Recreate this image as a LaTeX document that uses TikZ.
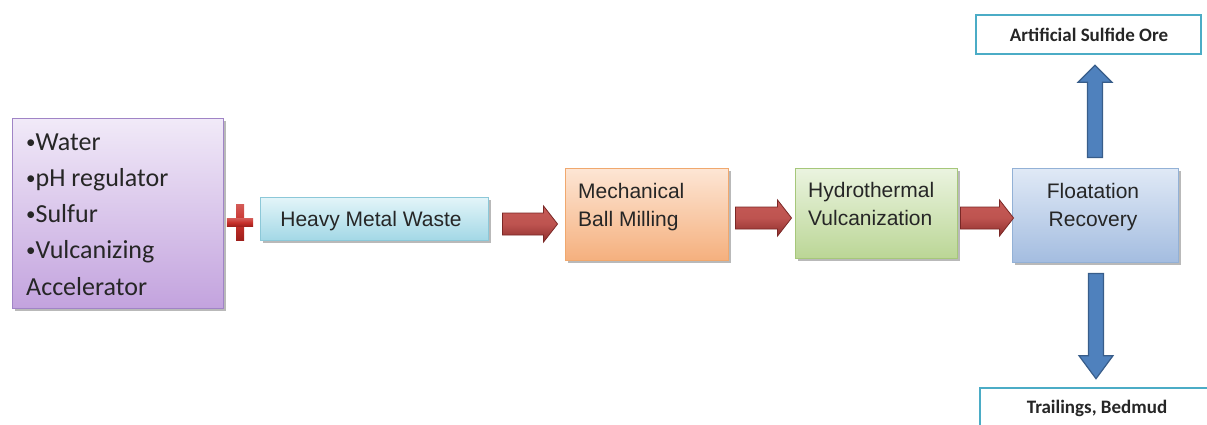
\documentclass[tikz,border=0pt]{standalone}
\usepackage{fontspec}
\setmainfont{Carlito}
\newfontfamily\arfont{Liberation Sans}
\newfontfamily\calfont{Carlito}
\usetikzlibrary{shadows,calc}
\newcommand\smallbul{\raisebox{1.5pt}{\fontsize{19}{19}\selectfont •}}
\definecolor{purTop}{HTML}{F1EAF8}
\definecolor{purMid}{HTML}{E2D3F0}
\definecolor{purBot}{HTML}{C3A3DE}
\definecolor{purLine}{HTML}{A084C6}
\definecolor{cyTop}{HTML}{E4F5F9}
\definecolor{cyMid}{HTML}{C8EAF2}
\definecolor{cyBot}{HTML}{A3D8E6}
\definecolor{cyLine}{HTML}{8CC8D8}
\definecolor{orTop}{HTML}{FDE6D5}
\definecolor{orMid}{HTML}{FBD0B0}
\definecolor{orBot}{HTML}{F5B07E}
\definecolor{orLine}{HTML}{F0A86E}
\definecolor{grTop}{HTML}{EBF4E0}
\definecolor{grMid}{HTML}{D6E8C0}
\definecolor{grBot}{HTML}{BBD696}
\definecolor{grLine}{HTML}{A6C77A}
\definecolor{blTop}{HTML}{E0E9F6}
\definecolor{blMid}{HTML}{C6D6EE}
\definecolor{blBot}{HTML}{A4BDE0}
\definecolor{blLine}{HTML}{93B1D6}
\definecolor{teal}{HTML}{4BACC6}
\definecolor{arRedTop}{HTML}{C65A56}
\definecolor{arRedBot}{HTML}{8E2E2C}
\definecolor{arRedLine}{HTML}{7A2826}
\definecolor{arBlue}{HTML}{4F81BD}
\definecolor{arBlueLine}{HTML}{385D8A}
\definecolor{plusRed}{HTML}{C8302B}
\definecolor{plusDark}{HTML}{9E1F1B}
\definecolor{txt}{HTML}{262626}
\begin{document}
\begin{tikzpicture}[x=1pt,y=-1pt,
  box/.style={draw, line width=0.9pt, inner sep=0pt,
    drop shadow={shadow xshift=3pt,shadow yshift=-3pt,fill=black!50,opacity=0.55}},
  outbox/.style={draw=teal, line width=2.6pt, fill=white, inner sep=0pt},
  proc/.style={font=\arfont\fontsize{21}{27}\selectfont, text=txt, inner sep=0pt},
  lefttxt/.style={font=\calfont\fontsize{26}{36}\selectfont, text=txt, inner sep=0pt, anchor=base west},
  outtxt/.style={font=\calfont\bfseries\fontsize{19}{23}\selectfont, text=txt, inner sep=0pt, anchor=base},
  fatH/.style={to path={let \p1=(\tikztostart), \p2=(\tikztotarget) in
     (\x1,\y1+11pt) -- (\x2-14pt,\y1+11pt) -- (\x2-14pt,\y1+18pt) -- (\x2,\y1)
     -- (\x2-14pt,\y1-18pt) -- (\x2-14pt,\y1-11pt) -- (\x1,\y1-11pt) -- cycle}},
  fatUp/.style={to path={let \p1=(\tikztostart), \p2=(\tikztotarget) in
     (\x1-7.5pt,\y1) -- (\x1-7.5pt,\y2-17pt) -- (\x1-17pt,\y2-17pt) -- (\x1,\y2)
     -- (\x1+17pt,\y2-17pt) -- (\x1+7.5pt,\y2-17pt) -- (\x1+7.5pt,\y1) -- cycle}},
  fatDown/.style={to path={let \p1=(\tikztostart), \p2=(\tikztotarget) in
     (\x1-7.5pt,\y1) -- (\x1-7.5pt,\y2+23pt) -- (\x1-17pt,\y2+23pt) -- (\x1,\y2)
     -- (\x1+17pt,\y2+23pt) -- (\x1+7.5pt,\y2+23pt) -- (\x1+7.5pt,\y1) -- cycle}},
  redarrow/.style={draw=arRedLine, line width=0.8pt, top color=arRedTop, bottom color=arRedBot, middle color=arRedTop!85!arRedBot},
  bluearrow/.style={draw=arBlueLine, line width=1.2pt, fill=arBlue}
]
\useasboundingbox (0,0) rectangle (1207,424);
\clip (0,0) rectangle (1207,424);

% boxes
\node[box, draw=purLine, top color=purTop, middle color=purMid, bottom color=purBot,
  minimum width=211pt, minimum height=190pt] (inputs) at (117.5,213) {};
\node[box, draw=cyLine, top color=cyTop, middle color=cyMid, bottom color=cyBot,
  minimum width=228pt, minimum height=43pt] (hmw) at (374,218.5) {};
\node[box, draw=orLine, top color=orTop, middle color=orMid, bottom color=orBot,
  minimum width=163pt, minimum height=92pt] (mech) at (646.5,214) {};
\node[box, draw=grLine, top color=grTop, middle color=grMid, bottom color=grBot,
  minimum width=162pt, minimum height=90pt] (hydro) at (876,213) {};
\node[box, draw=blLine, top color=blTop, middle color=blMid, bottom color=blBot,
  minimum width=166pt, minimum height=94pt] (float) at (1095,215) {};
\node[outbox, minimum width=225pt, minimum height=39pt] (aso) at (1088.5,34.5) {};
\node[outbox, minimum width=230pt, minimum height=60pt] (trail) at (1095,418) {};

% texts
\node[lefttxt] (l1) at (26,150) {\smallbul Water};
\node[lefttxt] (l2) at (26,186) {\smallbul pH regulator};
\node[lefttxt] (l3) at (26,222) {\smallbul Sulfur};
\node[lefttxt] (l4) at (26,258) {\smallbul Vulcanizing};
\node[lefttxt] (l5) at (26,295) {Accelerator};
\node[proc, anchor=base] (hmwt) at (371,226) {Heavy Metal Waste};
\node[proc, anchor=base west] (m1) at (578,198) {Mechanical};
\node[proc, anchor=base west] (m2) at (578,226) {Ball Milling};
\node[proc, anchor=base west] (h1) at (808,197) {Hydrothermal};
\node[proc, anchor=base west] (h2) at (808,225) {Vulcanization};
\node[proc, anchor=base] (f1) at (1093,198) {Floatation};
\node[proc, anchor=base] (f2) at (1093,226) {Recovery};
\node[outtxt] (asot) at (1089,41) {Artificial Sulfide Ore};
\node[outtxt] (trailt) at (1097,413) {Trailings, Bedmud};

% plus sign
\node[inner sep=0pt, minimum width=26pt, minimum height=35pt] (plus) at (240,222.5) {};
\fill[top color=plusRed!80!white, bottom color=plusDark, middle color=plusRed]
  ([xshift=-4pt]plus.north) rectangle ([xshift=4pt]plus.south);
\fill[top color=plusRed!80!white, bottom color=plusDark, middle color=plusRed]
  ([yshift=4pt]plus.west) rectangle ([yshift=-4pt]plus.east);

% connectors
\draw[redarrow, fatH] ([xshift=14pt,yshift=-5.5pt]hmw.east) to ([xshift=-7pt]mech.west);
\draw[redarrow, fatH] ([xshift=7pt,yshift=-4pt]mech.east) to ([xshift=-3pt]hydro.west);
\draw[redarrow, fatH] ([xshift=3pt,yshift=-5pt]hydro.east) to ([xshift=2pt]float.west);
\draw[bluearrow, fatUp] ([yshift=10pt]float.north) to ([yshift=-10pt]aso.south);
\draw[bluearrow, fatDown] ([xshift=1pt,yshift=-11pt]float.south) to ([yshift=8pt]trail.north);
\end{tikzpicture}
\end{document}
